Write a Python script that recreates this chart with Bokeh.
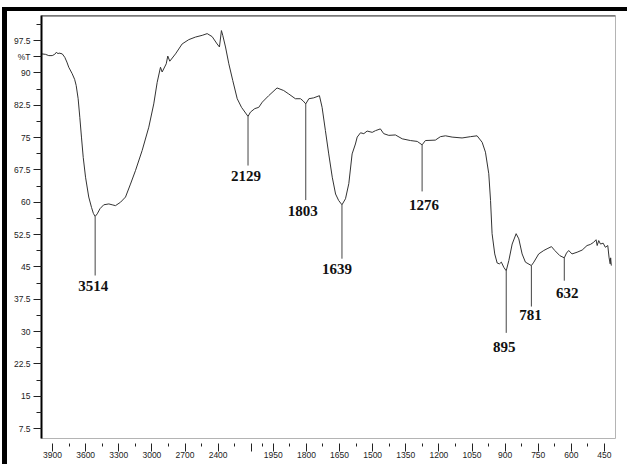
import numpy as np
from bokeh.plotting import figure
from bokeh.models import Range1d, FixedTicker, Span, Label
from bokeh.core.properties import value
from bokeh.embed import file_html
from bokeh.resources import INLINE

# ---------------- data ----------------
wavenumber = [4000, 3965, 3934, 3903, 3880, 3864, 3850, 3843, 3812, 3789, 3770, 3753, 3722, 3700,
              3686, 3668, 3653, 3638, 3622, 3601, 3572, 3547, 3530, 3514, 3495, 3470, 3436, 3390,
              3360, 3330, 3284, 3239, 3194, 3149, 3088, 3028, 2983, 2952, 2922, 2907, 2870, 2856,
              2838, 2786, 2726, 2666, 2605, 2544, 2499, 2454, 2409, 2388, 2370, 2358, 2333, 2303,
              2267, 2227, 2188, 2129, 2107, 2068, 2032, 2000,
              1971, 1933, 1903, 1880, 1850, 1827, 1815, 1803, 1789, 1767, 1741, 1729, 1714, 1699,
              1683, 1668, 1654, 1639, 1623, 1608, 1593, 1578, 1570, 1555, 1540, 1525, 1502, 1487,
              1465, 1450, 1427, 1397, 1366, 1329, 1298, 1276, 1261, 1216, 1193, 1170, 1140, 1095,
              1057, 1027, 1004, 989, 974, 966, 959, 947, 936, 926, 917, 906, 895, 883, 868, 850,
              838, 823, 808, 781, 770, 748, 725, 710, 690, 675, 652, 632, 622, 612, 597, 574, 551,
              529, 514, 499, 488, 483, 476, 468, 456, 446, 435, 429, 424, 422, 419]
transmittance = [94.4, 94.3, 94.0, 94.0, 94.3, 94.8, 94.4, 94.6, 94.4, 93.6, 92.5, 91.3, 89.8, 88.5,
                 87.1, 84.0, 79.7, 75.1, 70.4, 65.8, 61.2, 58.8, 57.4, 56.7, 57.3, 58.5, 59.4, 59.6,
                 59.4, 59.2, 60.0, 61.2, 64.2, 67.3, 72.0, 77.4, 82.8, 87.8, 91.3, 90.2, 92.1, 93.9,
                 92.7, 94.4, 96.7, 97.7, 98.3, 98.7, 99.1, 98.4, 96.7, 96.0, 99.8, 98.7, 96.0, 92.1,
                 88.2, 84.0, 82.0, 79.9, 80.9, 81.7, 82.0, 83.2,
                 84.7, 86.5, 85.9, 85.1, 84.0, 84.0, 83.5, 82.8, 84.0, 84.2, 84.7, 82.0, 76.6, 71.2,
                 65.8, 61.9, 60.4, 59.4, 60.8, 64.3, 71.2, 73.5, 75.1, 76.1, 75.9, 76.5, 76.2, 76.6,
                 77.0, 75.9, 75.5, 75.6, 74.7, 74.3, 74.1, 73.3, 74.3, 74.4, 75.2, 75.4, 75.1, 74.9,
                 75.2, 75.4, 73.9, 71.6, 66.6, 60.4, 52.7, 48.0, 45.9, 45.7, 46.1, 44.9, 44.1, 46.5,
                 50.3, 52.7, 51.5, 48.0, 46.1, 45.3, 46.1, 48.0, 48.8, 49.2, 49.7, 48.8, 47.6, 47.1,
                 48.2, 48.8, 48.0, 48.4, 48.9, 49.95, 50.2, 50.7, 51.3, 49.95, 51.1, 50.3, 50.5,
                 49.55, 49.95, 47.1, 45.7, 47.1, 45.3]

peak_wn = [3514, 2129, 1803, 1639, 1276, 895, 781, 632]
peak_T = [56.7, 79.9, 82.8, 59.4, 73.3, 44.1, 45.3, 47.1]

x_tick_wn = [3900, 3600, 3300, 3000, 2700, 2400, 2100, 1950, 1800, 1650, 1500, 1350, 1200,
             1050, 900, 750, 600, 450]
x_tick_labels = ["3900", "3600", "3300", "3000", "2700", "2400", "", "1950", "1800", "1650",
                 "1500", "1350", "1200", "1050", "900", "750", "600", "450"]
x_minor_wn = [3750, 3450, 3150, 2850, 2550, 2250, 2000, 1875, 1725, 1575, 1425, 1275, 1125,
              975, 825, 675, 525]
y_tick_values = [7.5, 15, 22.5, 30, 37.5, 45, 52.5, 60, 67.5, 75, 82.5, 90, 97.5, 93.75]
y_tick_labels = ["7.5", "15", "22.5", "30", "37.5", "45", "52.5", "60", "67.5", "75", "82.5",
                 "90", "97.5", "%T"]
y_minor_values = [11.25, 18.75, 26.25, 33.75, 41.25, 48.75, 56.25, 63.75, 71.25, 78.75,
                  86.25, 101.25]

# ---------------- layout of the peak annotations (in %T) ----------------
line_end_T = [43.0, 68.5, 60.5, 46.9, 62.5, 29.7, 35.8, 41.8]
label_T = [40.5, 66.1, 57.9, 44.4, 59.3, 26.4, 33.9, 38.9]
label_dx = [-2, -2, -3, -5, 2, -2, -1, 3]


def to_axis(wn):
    """Instrument axis: 4000-2000 1/cm at half scale, 2000-400 1/cm at full scale."""
    wn = np.asarray(wn, dtype=float)
    return np.where(wn >= 2000, (4000.0 - wn) / 2.0, 3000.0 - wn)


Y0, Y1 = 5.2, 103.3

p = figure(width=625, height=457, output_backend="svg", toolbar_location=None,
           x_range=Range1d(0, 2600), y_range=Range1d(Y0, Y1),
           min_border_left=34, min_border_right=17, min_border_top=4, min_border_bottom=30)
p.styles = {"margin-left": "2px", "margin-top": "7px",
            "border-left": "5px solid black", "border-top": "4px solid black"}
p.grid.visible = False
p.outline_line_color = "#b4b4b4"
p.outline_line_width = 1
p.background_fill_color = "white"
p.border_fill_color = "white"

# y axis
ya = p.yaxis[0]
ya.ticker = FixedTicker(ticks=y_tick_values, minor_ticks=y_minor_values)
ya.major_label_overrides = {float(v): s for v, s in zip(y_tick_values, y_tick_labels)}
ya.axis_line_color = "black"
ya.axis_line_width = 2
ya.major_tick_in = 0
ya.major_tick_out = 8
ya.minor_tick_in = 0
ya.minor_tick_out = 5
ya.major_tick_line_color = "#222222"
ya.minor_tick_line_color = "#222222"
ya.major_label_standoff = 3
ya.major_label_text_font = "Liberation Sans"
ya.major_label_text_font_size = "8.5px"
ya.major_label_text_color = "#222222"

# x axis
xa = p.xaxis[0]
xt = [float(v) for v in to_axis(x_tick_wn)]
xa.ticker = FixedTicker(ticks=xt, minor_ticks=[float(v) for v in to_axis(x_minor_wn)])
xa.major_label_overrides = {v: s for v, s in zip(xt, x_tick_labels)}
xa.axis_line_color = None
xa.major_tick_in = -5
xa.major_tick_out = 13
xa.minor_tick_in = -5
xa.minor_tick_out = 8
xa.major_tick_line_color = "#222222"
xa.minor_tick_line_color = "#222222"
xa.major_label_standoff = 0
xa.major_label_text_font = "Liberation Sans"
xa.major_label_text_font_size = "8.5px"
xa.major_label_text_color = "#222222"

# top edge of the frame
p.add_layout(Span(location=Y1, dimension="width", line_color="#3c3c3c", line_width=2))

# spectrum
p.line(to_axis(wavenumber), transmittance, line_color="#333333", line_width=1)

# peak markers
px = to_axis(peak_wn)
p.segment(x0=px, y0=peak_T, x1=px, y1=line_end_T, line_color="#444444", line_width=1)
p.text(x=px, y=label_T, text=[str(w) for w in peak_wn], x_offset=label_dx,
       text_font=value("Liberation Serif"), text_font_style="bold", text_font_size="15px",
       text_color="#111111", text_align="center", text_baseline="middle")

# secondary axis captions
p.add_layout(Label(x=float(to_axis(3900)), y=0.15, x_offset=-10, text="S 4",
                   text_font="Liberation Sans", text_font_size="8.5px", text_color="#222222",
                   text_align="left", text_baseline="middle"))
p.add_layout(Label(x=float(to_axis(450)), y=0.45, text="1/cm",
                   text_font="Liberation Sans", text_font_size="8.5px", text_color="#222222",
                   text_align="center", text_baseline="middle"))

open("out.html", "w").write(file_html(p, INLINE))
